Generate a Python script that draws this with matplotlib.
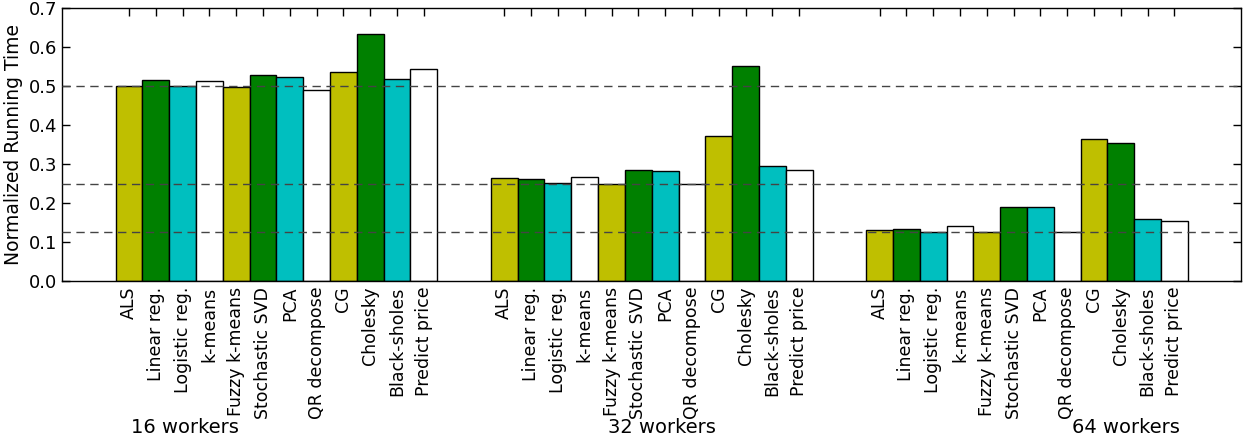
import numpy as np
import matplotlib
matplotlib.use("Agg")
from matplotlib import pyplot as plt

#---------------- donnees ----------------

apps = ["ALS", "Linear reg.", "Logistic reg.", "k-means", "Fuzzy k-means",
        "Stochastic SVD", "PCA", "QR decompose", "CG", "Cholesky",
        "Black-sholes", "Predict price"]
groups = ["16 workers", "32 workers", "64 workers"]

w16 = [0.501, 0.515, 0.500, 0.514, 0.497, 0.527, 0.522, 0.490, 0.537, 0.634, 0.518, 0.543]
w32 = [0.265, 0.261, 0.252, 0.268, 0.250, 0.286, 0.283, 0.250, 0.373, 0.550, 0.296, 0.286]
w64 = [0.132, 0.134, 0.127, 0.142, 0.126, 0.191, 0.190, 0.127, 0.363, 0.354, 0.160, 0.153]

ref_lines = [0.5, 0.25, 0.125]
colors = ['#bfbf00', '#008000', '#00bfbf', 'white']

#---------------- trace ----------------

fig = plt.figure(figsize=(12.48, 4.42), dpi=100)
ax = fig.add_axes([0.0497, 0.364, 0.945, 0.618])

series = [w16, w32, w64]
n = len(apps)
tick_pos = []
tick_lab = []
for g in range(len(series)):
    x0 = 2 + g * (n + 2)
    x = x0 + np.arange(n)
    ax.bar(x, series[g], width=1.0, align='edge',
           color=[colors[i % 4] for i in range(n)],
           edgecolor='black', linewidth=1.0, zorder=2)
    tick_pos += list(x + 0.5)
    tick_lab += apps

for y in ref_lines:
    ax.axhline(y, color='#444444', linestyle='--', dashes=(6, 4), linewidth=1.0, zorder=3)

ax.set_xlim(0, 3 * (n + 2) + 2)
ax.set_ylim(0, 0.7)
ax.set_yticks(np.arange(0, 0.71, 0.1))
ax.set_yticklabels(["%.1f" % v for v in np.arange(0, 0.71, 0.1)], fontsize=13)
ax.set_xticks(tick_pos)
ax.set_xticklabels(tick_lab, rotation=90, fontsize=12.5)
ax.tick_params(direction='in', top=True, right=True, length=6, width=1.0)
ax.tick_params(axis='x', pad=4)
ax.set_ylabel("Normalized Running Time", fontsize=13.5)
for s in ax.spines.values():
    s.set_linewidth(1.0)

# etiquettes des groupes
label_x = [4.6, 22.4, 39.7]
for g, lab in enumerate(groups):
    ax.text(label_x[g], -0.374, lab, fontsize=14, ha='center', va='center',
            transform=ax.transData)

fig.savefig("out.png", dpi=100)
